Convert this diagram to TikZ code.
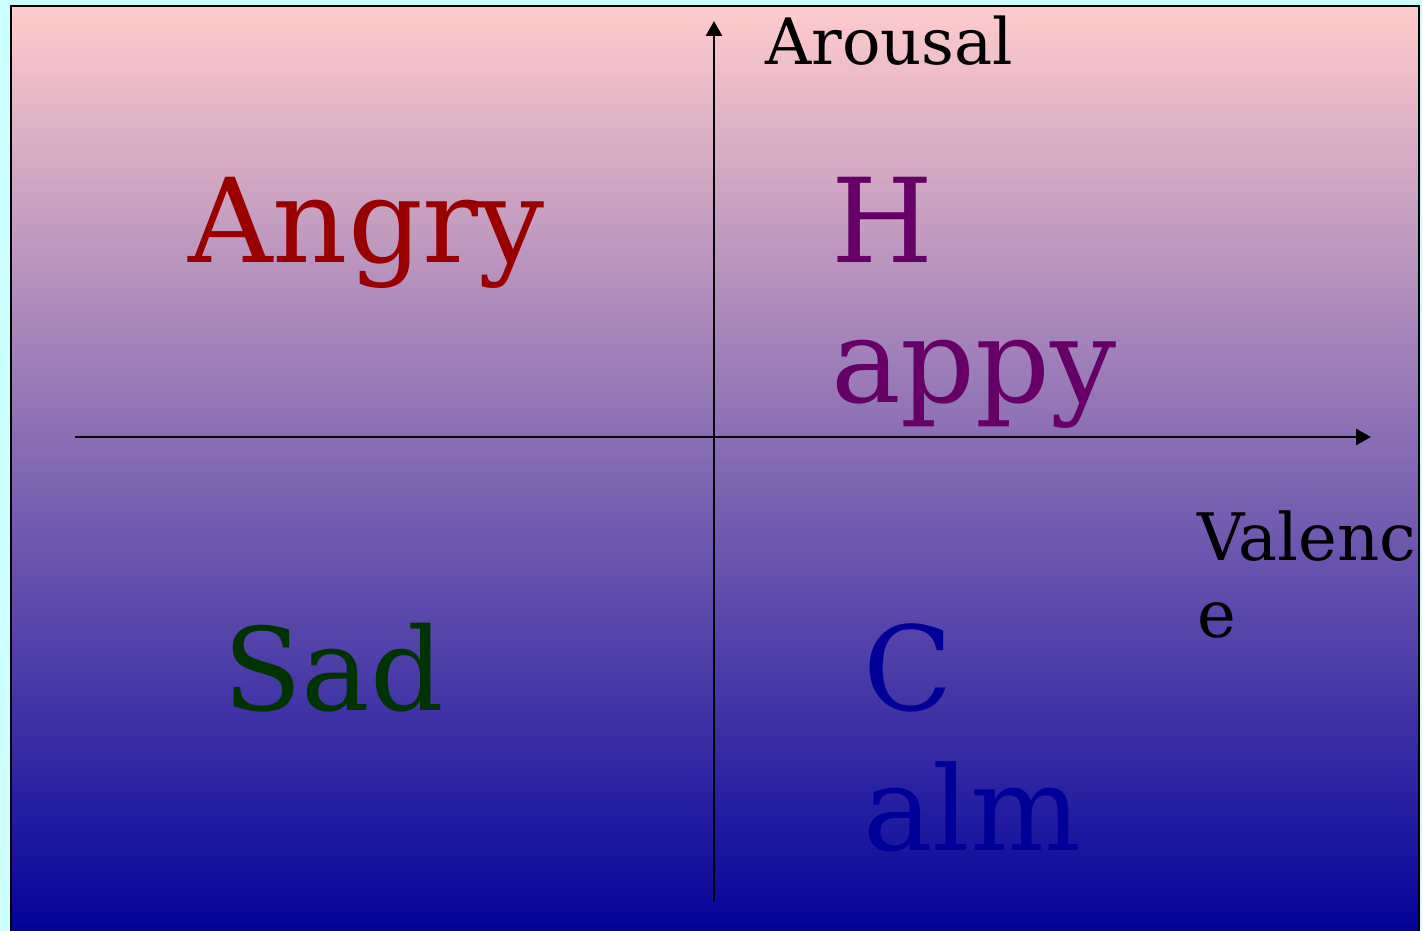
\documentclass[tikz,border=0pt]{standalone}
\usepackage{fontspec}
\setmainfont{DejaVu Serif}
\usetikzlibrary{arrows.meta}
\definecolor{bgcyan}{RGB}{204,255,255}
\definecolor{toppink}{RGB}{255,204,204}
\definecolor{botblue}{RGB}{0,0,153}
\definecolor{angryc}{RGB}{153,0,0}
\definecolor{happyc}{RGB}{102,0,102}
\definecolor{sadc}{RGB}{0,51,0}
\definecolor{calmc}{RGB}{0,0,153}
\tikzset{
  axisline/.style={line width=2.6pt,-{Triangle[length=15pt,width=16pt]}},
  biglabel/.style={anchor=base west,inner sep=0pt,align=left,font=\fontsize{117}{140}\selectfont},
  smalllabel/.style={anchor=base west,inner sep=0pt,align=left,font=\fontsize{64}{77}\selectfont},
}
\begin{document}
\begin{tikzpicture}[x=1pt,y=-1pt]
\useasboundingbox (0,0) rectangle (1422,931);
\fill[bgcyan] (0,0) rectangle (1422,931);
\shade[top color=toppink,bottom color=botblue] (11,6) rectangle (1419,945);
\draw[line width=2.5pt] (11,945) -- (11,6) -- (1419,6) -- (1419,945);
\coordinate (vbot) at (714,901);
\coordinate (vtop) at (714,21);
\coordinate (hleft) at (75,437);
\coordinate (hright) at (1371,437);
\draw[axisline] (vbot) -- (vtop);
\draw[axisline] (hleft) -- (hright);
\node[smalllabel] (arousal) at (765,65) {Arousal};
\node[smalllabel,font=\fontsize{65.5}{77}\selectfont] (valence) at (1197,637) {Valenc\\e};
\node[biglabel,text=angryc] (angry) at (188,262) {Angry};
\node[biglabel,text=happyc] (happy) at (831,402) {H\\appy};
\node[biglabel,text=sadc,font=\fontsize{115}{140}\selectfont] (sad) at (223,710) {Sad};
\node[biglabel,text=calmc] (calm) at (863,850) {C\\alm};
\end{tikzpicture}
\end{document}
